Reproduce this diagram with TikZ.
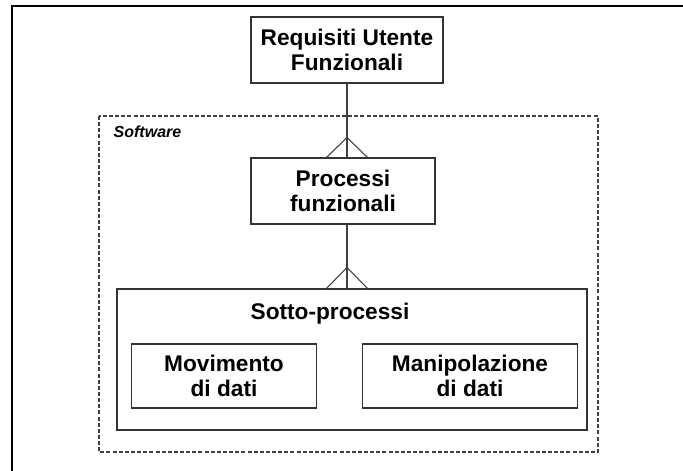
\documentclass[tikz,border=0pt]{standalone}
\usepackage{fontspec}
\setmainfont{Liberation Sans}
\usetikzlibrary{calc}

\tikzset{
  frame/.style={draw=black, line width=1.5pt},
  swbound/.style={draw=black!75, line width=0.8pt, dash pattern=on 3pt off 1.6pt},
  procbox/.style={draw=black!80, line width=0.8pt, rectangle, align=center,
    font=\fontsize{17}{19}\selectfont\bfseries, inner sep=0pt},
  link/.style={draw=black!75, line width=0.8pt}
}

\begin{document}
\begin{tikzpicture}[x=0.75pt, y=0.75pt]
    \useasboundingbox (0,0) rectangle (683,-471);
    % outer page frame
    \draw [frame] (12,-480) -- (12,-6) -- (690,-6);
    % software boundary
    \draw [swbound] (99,-116) rectangle (598,-452);
    \node [font=\fontsize{12}{14}\selectfont\bfseries\itshape, anchor=west] (sw) at (109,-132) {Software};
    % boxes
    \node [procbox, minimum width=144pt, minimum height=49.5pt] (req) at (347,-50) {Requisiti Utente\\Funzionali};
    \node [procbox, minimum width=138pt, minimum height=49.5pt] (proc) at (343,-191) {Processi\\funzionali};
    \node [draw=black!80, line width=0.8pt, rectangle, minimum width=352.5pt, minimum height=105.75pt, inner sep=0pt] (sub) at (352,-359.5) {};
    \node [font=\fontsize{17}{19}\selectfont\bfseries] (subt) at (330,-314) {Sotto-processi};
    \node [procbox, minimum width=138.4pt, minimum height=48pt] (mov) at (224,-376) {Movimento\\di dati};
    \node [procbox, minimum width=160.9pt, minimum height=48pt] (man) at (470,-376) {Manipolazione\\di dati};
    % connectors with crow's feet
    \draw [link] (req.south) -- (req.south |- proc.north);
    \draw [link] ($(req.south |- proc.north)+(-20.5,0)$) -- ++(20.5,20) -- ++(20.5,-20);
    \draw [link] (req.south |- proc.south) -- (req.south |- sub.north);
    \draw [link] ($(req.south |- sub.north)+(-20.5,0)$) -- ++(20.5,21) -- ++(20.5,-21);
\end{tikzpicture}
\end{document}
